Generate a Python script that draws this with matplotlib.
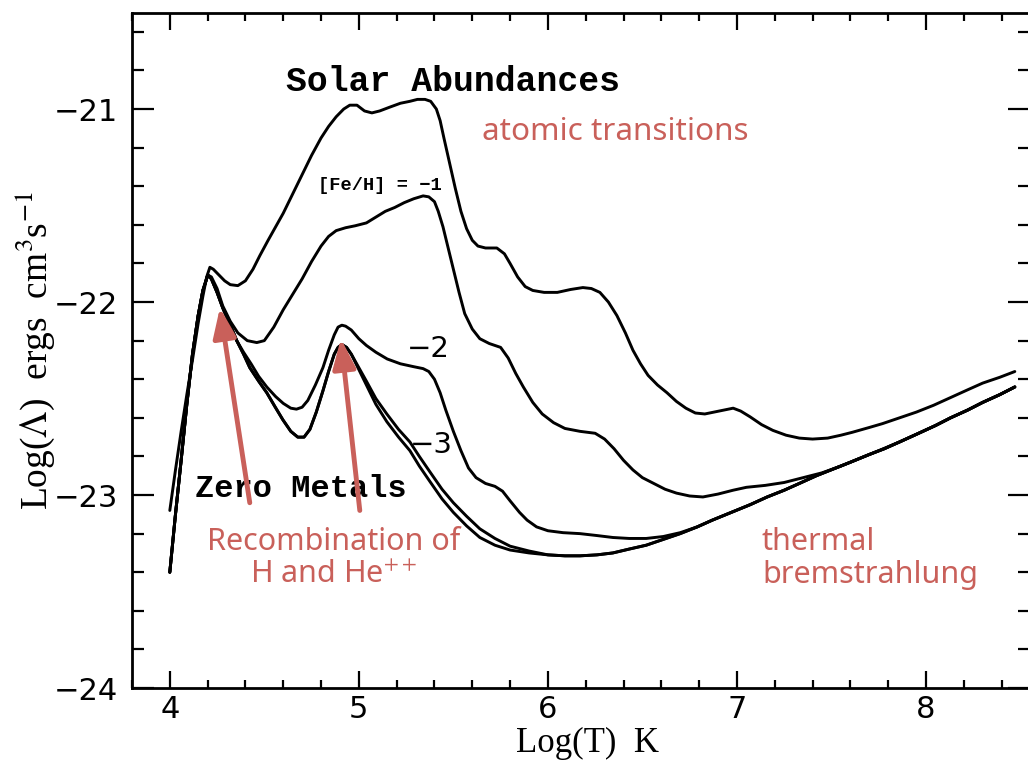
import matplotlib
matplotlib.use('Agg')
import matplotlib.pyplot as plt
from matplotlib.ticker import MultipleLocator

# cooling curves, log T vs log Lambda
solar_x = [4.00, 4.03, 4.06, 4.09, 4.12, 4.15, 4.175, 4.195, 4.212, 4.23, 4.26, 4.29, 4.32, 4.36,
           4.40, 4.44, 4.476, 4.52, 4.56, 4.60, 4.65, 4.70, 4.75, 4.80, 4.84, 4.88, 4.92, 4.952,
           4.99, 5.03, 5.069, 5.11, 5.164, 5.22, 5.27, 5.31, 5.35, 5.38, 5.41, 5.43, 5.45, 5.48,
           5.51, 5.54, 5.57, 5.60, 5.63, 5.67, 5.73, 5.77, 5.80, 5.84, 5.88, 5.92, 5.98, 6.05,
           6.12, 6.185, 6.23, 6.275, 6.32, 6.365, 6.41, 6.45, 6.49, 6.53, 6.58, 6.63, 6.68, 6.73,
           6.78, 6.83, 6.88, 6.93, 6.98, 7.02, 7.07, 7.13, 7.19, 7.26, 7.33, 7.40, 7.48, 7.55,
           7.61, 7.70, 7.77, 7.86, 7.95, 8.04, 8.13, 8.22, 8.30, 8.39, 8.47]
solar_y = [-23.08, -22.87, -22.67, -22.48, -22.30, -22.11, -21.97, -21.87, -21.82, -21.83, -21.86,
           -21.89, -21.91, -21.915, -21.89, -21.83, -21.76, -21.68, -21.61, -21.54, -21.44, -21.34,
           -21.24, -21.15, -21.09, -21.04, -21.00, -20.98, -20.98, -21.01, -21.02, -21.01, -20.99,
           -20.97, -20.96, -20.95, -20.95, -20.96, -21.00, -21.06, -21.15, -21.28, -21.41, -21.53,
           -21.62, -21.68, -21.71, -21.72, -21.72, -21.75, -21.80, -21.87, -21.92, -21.94, -21.95,
           -21.95, -21.935, -21.925, -21.93, -21.95, -22.00, -22.07, -22.16, -22.25, -22.32, -22.38,
           -22.43, -22.47, -22.515, -22.55, -22.575, -22.58, -22.57, -22.56, -22.55, -22.565,
           -22.595, -22.635, -22.665, -22.69, -22.705, -22.71, -22.705, -22.69, -22.675, -22.65,
           -22.63, -22.60, -22.57, -22.535, -22.495, -22.455, -22.42, -22.39, -22.36]

feh1_x = [4.00, 4.03, 4.06, 4.09, 4.12, 4.15, 4.175, 4.201, 4.22, 4.25, 4.28, 4.32, 4.36, 4.41,
          4.46, 4.50, 4.55, 4.60, 4.65, 4.70, 4.75, 4.80, 4.84, 4.88, 4.93, 4.98, 5.04, 5.09,
          5.14, 5.19, 5.24, 5.29, 5.34, 5.37, 5.40, 5.42, 5.445, 5.47, 5.50, 5.53, 5.56, 5.60,
          5.64, 5.69, 5.75, 5.79, 5.83, 5.87, 5.92, 5.97, 6.03, 6.09, 6.17, 6.25, 6.30, 6.35,
          6.40, 6.45, 6.50, 6.56, 6.62, 6.68, 6.75, 6.82, 6.90, 6.98, 7.05, 7.15, 7.25, 7.35,
          7.45, 7.55, 7.65, 7.75, 7.86, 7.95, 8.05, 8.13, 8.22, 8.30, 8.39, 8.47]
feh1_y = [-23.40, -23.10, -22.82, -22.53, -22.27, -22.07, -21.94, -21.86, -21.87, -21.93, -22.02,
          -22.10, -22.16, -22.20, -22.21, -22.20, -22.13, -22.04, -21.96, -21.88, -21.79, -21.71,
          -21.66, -21.63, -21.615, -21.605, -21.59, -21.56, -21.53, -21.51, -21.485, -21.465,
          -21.45, -21.455, -21.48, -21.53, -21.61, -21.71, -21.83, -21.95, -22.06, -22.14, -22.19,
          -22.215, -22.235, -22.29, -22.37, -22.44, -22.52, -22.58, -22.625, -22.655, -22.67,
          -22.68, -22.71, -22.76, -22.82, -22.87, -22.91, -22.94, -22.97, -22.99, -23.005, -23.01,
          -22.995, -22.975, -22.96, -22.95, -22.935, -22.91, -22.885, -22.85, -22.81, -22.77,
          -22.725, -22.685, -22.64, -22.60, -22.56, -22.52, -22.48, -22.44]

feh2_x = [4.00, 4.03, 4.06, 4.09, 4.12, 4.15, 4.175, 4.201, 4.22, 4.25, 4.28, 4.32, 4.354, 4.39,
          4.43, 4.47, 4.513, 4.56, 4.60, 4.64, 4.67, 4.70, 4.73, 4.77, 4.81, 4.84, 4.87, 4.89,
          4.91, 4.93, 4.96, 5.00, 5.04, 5.09, 5.15, 5.22, 5.29, 5.34, 5.37, 5.40, 5.43, 5.46,
          5.50, 5.54, 5.58, 5.62, 5.67, 5.72, 5.76, 5.80, 5.85, 5.89, 5.94, 6.00, 6.08, 6.17,
          6.26, 6.344, 6.43, 6.52, 6.61, 6.70, 6.79, 6.87, 6.97, 7.07, 7.16, 7.25, 7.33, 7.42,
          7.51, 7.60, 7.70, 7.78, 7.86, 7.95, 8.05, 8.13, 8.22, 8.30, 8.39, 8.47]
feh2_y = [-23.40, -23.10, -22.82, -22.53, -22.27, -22.07, -21.94, -21.86, -21.88, -21.95, -22.03,
          -22.12, -22.20, -22.26, -22.32, -22.385, -22.44, -22.49, -22.525, -22.55, -22.555,
          -22.545, -22.51, -22.43, -22.34, -22.25, -22.17, -22.13, -22.12, -22.125, -22.145,
          -22.19, -22.225, -22.26, -22.295, -22.32, -22.335, -22.345, -22.36, -22.40, -22.47,
          -22.56, -22.67, -22.77, -22.86, -22.91, -22.94, -22.955, -22.98, -23.03, -23.09, -23.13,
          -23.165, -23.185, -23.195, -23.20, -23.21, -23.22, -23.225, -23.225, -23.215, -23.195,
          -23.165, -23.13, -23.09, -23.05, -23.01, -22.975, -22.94, -22.90, -22.865, -22.83,
          -22.79, -22.76, -22.725, -22.685, -22.64, -22.60, -22.56, -22.52, -22.48, -22.44]

feh3_x = [4.00, 4.03, 4.06, 4.09, 4.12, 4.15, 4.175, 4.201, 4.22, 4.25, 4.28, 4.32, 4.354, 4.39,
          4.423, 4.47, 4.513, 4.555, 4.598, 4.64, 4.677, 4.71, 4.741, 4.775, 4.81, 4.84, 4.87,
          4.89, 4.91, 4.935, 4.96, 5.00, 5.04, 5.09, 5.148, 5.21, 5.27, 5.32, 5.376, 5.44, 5.50,
          5.57, 5.64, 5.72, 5.80, 5.90, 6.00, 6.09, 6.17, 6.26, 6.344, 6.43, 6.52, 6.61, 6.70,
          6.79, 6.87, 6.97, 7.07, 7.16, 7.25, 7.33, 7.42, 7.51, 7.60, 7.70, 7.78, 7.86, 7.95,
          8.05, 8.13, 8.22, 8.30, 8.39, 8.47]
feh3_y = [-23.40, -23.10, -22.82, -22.53, -22.27, -22.07, -21.94, -21.86, -21.88, -21.95, -22.03,
          -22.12, -22.20, -22.27, -22.34, -22.41, -22.47, -22.54, -22.61, -22.67, -22.70, -22.70,
          -22.66, -22.57, -22.46, -22.36, -22.27, -22.235, -22.22, -22.235, -22.27, -22.34,
          -22.41, -22.50, -22.58, -22.66, -22.725, -22.80, -22.88, -22.97, -23.04, -23.11, -23.175,
          -23.225, -23.265, -23.29, -23.31, -23.315, -23.315, -23.31, -23.30, -23.28, -23.26,
          -23.23, -23.20, -23.165, -23.13, -23.09, -23.05, -23.01, -22.975, -22.94, -22.90,
          -22.865, -22.83, -22.79, -22.76, -22.725, -22.685, -22.64, -22.60, -22.56, -22.52,
          -22.48, -22.44]

zero_x = [4.00, 4.03, 4.06, 4.09, 4.12, 4.15, 4.175, 4.201, 4.22, 4.25, 4.28, 4.32, 4.354, 4.39,
          4.423, 4.47, 4.513, 4.555, 4.598, 4.64, 4.677, 4.71, 4.741, 4.775, 4.81, 4.84, 4.87,
          4.89, 4.91, 4.935, 4.96, 5.00, 5.04, 5.09, 5.148, 5.21, 5.27, 5.32, 5.376, 5.44, 5.50,
          5.57, 5.64, 5.72, 5.80, 5.90, 6.00, 6.09, 6.17, 6.26, 6.344, 6.43, 6.52, 6.61, 6.70,
          6.79, 6.87, 6.97, 7.07, 7.16, 7.25, 7.33, 7.42, 7.51, 7.60, 7.70, 7.78, 7.86, 7.95,
          8.05, 8.13, 8.22, 8.30, 8.39, 8.47]
zero_y = [-23.40, -23.10, -22.82, -22.53, -22.27, -22.07, -21.94, -21.86, -21.88, -21.95, -22.03,
          -22.12, -22.20, -22.27, -22.34, -22.41, -22.47, -22.54, -22.61, -22.67, -22.70, -22.70,
          -22.66, -22.57, -22.46, -22.36, -22.27, -22.235, -22.22, -22.235, -22.27, -22.35,
          -22.43, -22.53, -22.62, -22.70, -22.77, -22.85, -22.93, -23.02, -23.09, -23.16, -23.22,
          -23.26, -23.285, -23.30, -23.31, -23.315, -23.315, -23.31, -23.30, -23.28, -23.26,
          -23.23, -23.20, -23.165, -23.13, -23.09, -23.05, -23.01, -22.975, -22.94, -22.90,
          -22.865, -22.83, -22.79, -22.76, -22.725, -22.685, -22.64, -22.60, -22.56, -22.52,
          -22.48, -22.44]

# annotation arrows (tail -> tip), data coords
arrow_tails = [(4.423, -23.04), (5.005, -23.08)]
arrow_tips = [(4.265, -22.03), (4.905, -22.19)]

red = '#c9605a'

plt.rcParams['mathtext.fontset'] = 'stix'

fig = plt.figure(figsize=(10.28, 7.6), dpi=100)
ax = fig.add_axes([0.1284, 0.0947, 0.8735, 0.8888])

for xs, ys in [(solar_x, solar_y), (feh1_x, feh1_y), (feh2_x, feh2_y),
               (feh3_x, feh3_y), (zero_x, zero_y)]:
    ax.plot(xs, ys, color='black', lw=2.1, solid_joinstyle='round', solid_capstyle='round')

ax.set_xlim(3.8, 8.55)
ax.set_ylim(-24, -20.5)
ax.xaxis.set_major_locator(MultipleLocator(1))
ax.xaxis.set_minor_locator(MultipleLocator(0.2))
ax.yaxis.set_major_locator(MultipleLocator(1))
ax.yaxis.set_minor_locator(MultipleLocator(0.2))
ax.tick_params(which='both', direction='in', top=True, right=True, width=1.6)
ax.tick_params(axis='x', which='major', length=12, pad=5)
ax.tick_params(axis='x', which='minor', length=6)
ax.tick_params(axis='y', which='major', length=16, pad=10)
ax.tick_params(axis='y', which='minor', length=8.5)
for lab in ax.get_xticklabels() + ax.get_yticklabels():
    lab.set_fontfamily('DejaVu Sans')
    lab.set_fontsize(22)
for sp in ax.spines.values():
    sp.set_linewidth(2.0)

ax.set_xlabel('Log(T)  K', family='Liberation Serif', fontsize=25)
ax.xaxis.set_label_coords(0.507, -0.058)
ax.set_ylabel(r'Log($\Lambda$)  ergs  cm$^3$s$^{-1}$', family='Liberation Serif', fontsize=27)
ax.yaxis.set_label_coords(-0.083, 0.5)

mono = 'Liberation Mono'
ax.text(5.497, -20.907, 'Solar Abundances', family=mono, weight='bold', fontsize=25,
        ha='center', va='baseline')
ax.text(4.132, -23.01, 'Zero Metals', family=mono, weight='bold', fontsize=23,
        ha='left', va='baseline')
ax.text(4.783, -21.42, '[Fe/H] = \u22121', family=mono, weight='bold', fontsize=13.5,
        ha='left', va='baseline')
ax.text(5.254, -22.244, '\u22122', family='DejaVu Sans', fontsize=21, ha='left', va='center')
ax.text(5.27, -22.741, '\u22123', family='DejaVu Sans', fontsize=21, ha='left', va='center')

red_font = ['Noto Sans', 'DejaVu Sans']
ax.text(5.651, -21.161, 'atomic transitions', family=red_font,
        fontsize=22.7, color=red, ha='left', va='baseline')
ax.text(4.868, -23.456, 'Recombination of\nH and He$^{++}$', family=red_font,
        fontsize=22, color=red, ha='center', va='baseline', linespacing=1.15)
ax.text(7.132, -23.456, 'thermal\nbremstrahlung', family=red_font,
        fontsize=22, color=red, ha='left', va='baseline', linespacing=1.15)

for tail, tip in zip(arrow_tails, arrow_tips):
    ax.annotate('', xy=tip, xytext=tail,
                arrowprops=dict(arrowstyle='-|>,head_length=0.9,head_width=0.35',
                                mutation_scale=20, lw=3.5, color=red,
                                shrinkA=0, shrinkB=0))

fig.savefig('out.png', dpi=100)
